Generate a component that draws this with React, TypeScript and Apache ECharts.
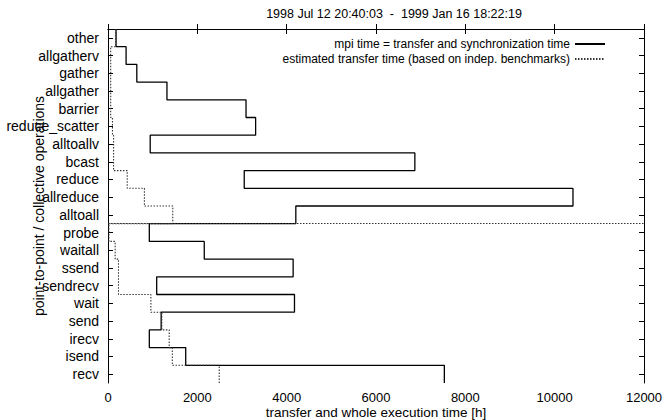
import React, { useEffect, useRef } from "react";
import * as echarts from "echarts";

const categories = [
  "other", "allgatherv", "gather", "allgather", "barrier", "reduce_scatter",
  "alltoallv", "bcast", "reduce", "allreduce", "alltoall",
  "probe", "waitall", "ssend", "sendrecv", "wait", "send", "irecv", "isend", "recv",
];
const mpiTime = [
  180, 405, 645, 1320, 3090, 3305, 945, 6870, 3050, 10410, 4205,
  925, 2155, 4145, 1090, 4175, 1190, 925, 1740, 7530,
];
const estTime = [
  175, 60, 60, 60, 60, 100, 125, 125, 430, 815, 1450,
  20, 160, 235, 235, 960, 1205, 1370, 1440, 2490,
];
const xTicks = { min: 0, max: 12000, interval: 2000 };
const titleText = "1998 Jul 12 20:40:03  -  1999 Jan 16 18:22:19";
const seriesNames = [
  "mpi time = transfer and synchronization time",
  "estimated transfer time (based on indep. benchmarks)",
];
const separatorBefore = "probe";

const FONT = "Liberation Sans, Arial, Helvetica, sans-serif";

function stepPoints(vals: number[]) {
  const pts: number[][] = [];
  vals.forEach((v, i) => {
    pts.push([v, i]);
    pts.push([v, i + 1]);
  });
  return pts;
}

export default function App() {
  const ref = useRef<HTMLDivElement>(null);
  useEffect(() => {
    if (!ref.current) return;
    const chart = echarts.init(ref.current, null, { renderer: "svg" });
    const sepIndex = categories.indexOf(separatorBefore);
    const tickInside = { show: true, inside: true, length: 5, lineStyle: { color: "#000", width: 1 } };
    chart.setOption({
      animation: false,
      backgroundColor: "#fff",
      textStyle: { fontFamily: FONT },
      graphic: [
        {
          type: "text",
          x: 394,
          y: 14,
          style: {
            text: titleText,
            textAlign: "center",
            textVerticalAlign: "middle",
            fontFamily: FONT,
            fontSize: 12.5,
            fill: "#000",
          },
        },
      ],
      grid: { left: 108, right: 20, top: 29, bottom: 37, containLabel: false, outerBoundsMode: "none" },
      legend: {
        orient: "vertical",
        right: 58,
        top: 38,
        padding: 0,
        align: "right",
        itemWidth: 30,
        itemHeight: 12,
        itemGap: 3,
        itemStyle: { opacity: 0 },
        textStyle: { fontFamily: FONT, fontSize: 12, color: "#000" },
        data: seriesNames,
      },
      xAxis: [
        {
          type: "value",
          ...xTicks,
          position: "bottom",
          name: "transfer and whole execution time [h]",
          nameLocation: "middle",
          nameGap: 22,
          nameMoveOverlap: false,
          nameTextStyle: { fontFamily: FONT, fontSize: 13.5, color: "#000" },
          axisLine: { show: true, lineStyle: { color: "#000", width: 1 } },
          axisTick: tickInside,
          axisLabel: {
            fontFamily: FONT,
            fontSize: 13,
            color: "#000",
            margin: 8,
            formatter: (v: number) => String(v),
          },
          splitLine: { show: false },
        },
        {
          type: "value",
          ...xTicks,
          position: "top",
          axisLine: { show: true, lineStyle: { color: "#000", width: 1 } },
          axisTick: tickInside,
          axisLabel: { show: false },
          splitLine: { show: false },
        },
      ],
      yAxis: [
        {
          type: "category",
          data: categories,
          inverse: true,
          boundaryGap: true,
          position: "left",
          name: "point-to-point / collective operations",
          nameLocation: "middle",
          nameRotate: 90,
          nameGap: 62,
          nameMoveOverlap: false,
          nameTextStyle: { fontFamily: FONT, fontSize: 14, color: "#000" },
          axisLine: { show: true, lineStyle: { color: "#000", width: 1 } },
          axisTick: { ...tickInside, alignWithLabel: true, interval: 0 },
          axisLabel: { fontFamily: FONT, fontSize: 14, color: "#000", margin: 9, interval: 0 },
          splitLine: { show: false },
        },
        {
          type: "value",
          min: 0,
          max: categories.length,
          inverse: true,
          show: false,
        },
        {
          type: "category",
          data: categories,
          inverse: true,
          boundaryGap: true,
          position: "right",
          axisLine: { show: true, lineStyle: { color: "#000", width: 1 } },
          axisTick: { ...tickInside, alignWithLabel: true, interval: 0 },
          axisLabel: { show: false },
          splitLine: { show: false },
        },
      ],
      series: [
        {
          name: seriesNames[0],
          type: "line",
          xAxisIndex: 0,
          yAxisIndex: 1,
          data: stepPoints(mpiTime),
          symbol: "none",
          lineStyle: { color: "#000", width: 1.3 },
          itemStyle: { color: "#000" },
        },
        {
          name: seriesNames[1],
          type: "line",
          xAxisIndex: 0,
          yAxisIndex: 1,
          data: stepPoints(estTime),
          symbol: "none",
          lineStyle: { color: "#333", width: 1.1, type: [1.5, 1.5] },
          itemStyle: { color: "#333" },
          markLine: {
            silent: true,
            symbol: "none",
            label: { show: false },
            lineStyle: { color: "#333", width: 1.1, type: [1.5, 1.5] },
            data: [{ yAxis: sepIndex }],
          },
        },
      ],
    });
    return () => chart.dispose();
  }, []);
  return (
    <div
      ref={ref}
      style={{ position: "fixed", left: 0, top: 0, width: 664, height: 420 }}
    />
  );
}
